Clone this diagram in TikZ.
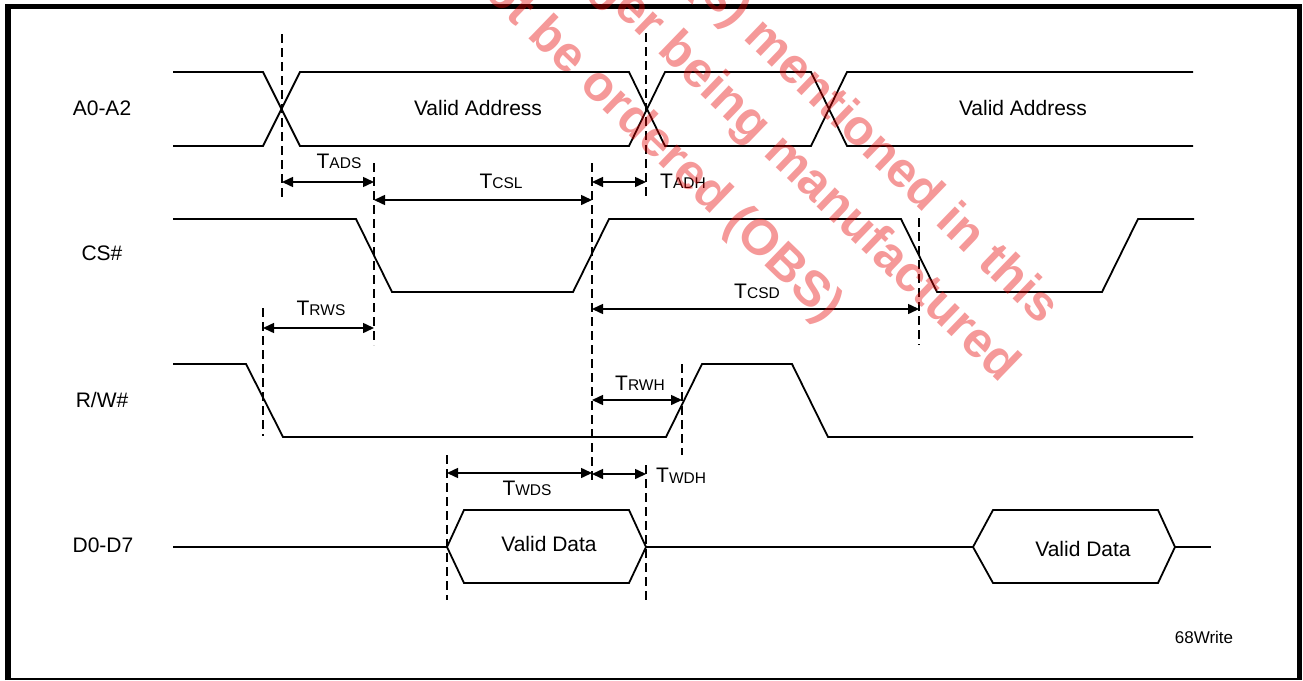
\documentclass[tikz,border=0pt]{standalone}
\usepackage{fontspec}
\setmainfont{Liberation Sans}
\usetikzlibrary{arrows.meta}
\definecolor{wmred}{RGB}{230,0,0}
\newcommand{\tsub}[1]{T{\fontsize{15.5}{16}\selectfont #1}}
\begin{document}
\begin{tikzpicture}[x=1pt,y=-1pt,
  sig/.style={line width=1.8pt, line join=miter},
  guide/.style={line width=1.5pt, dash pattern=on 9pt off 5pt},
  dim/.style={line width=1.5pt, {Triangle[length=11pt,width=10pt]}-{Triangle[length=11pt,width=10pt]}},
  lab/.style={font=\fontsize{21}{24}\selectfont, inner sep=0pt},
  tlab/.style={font=\fontsize{21}{24}\selectfont, inner sep=0pt, anchor=base},
  small/.style={font=\fontsize{17}{20}\selectfont, inner sep=0pt},
  wm/.style={font=\fontsize{50}{60}\selectfont\bfseries, text=wmred, text opacity=0.4, rotate=-44, anchor=mid east, inner sep=0pt}]
\useasboundingbox (0,0) rectangle (1303,680);
% frame
\draw[line width=5.5pt] (8,680) -- (8,6.5) -- (1299.5,6.5) -- (1299.5,680);
\draw[line width=1.5pt] (8,679) -- (1299.5,679);
% signal names
\node[lab] (nA) at (102,108) {A0-A2};
\node[lab] (nC) at (102,253) {CS\#};
\node[lab] (nR) at (102,400) {R/W\#};
\node[lab] (nD) at (103,545) {D0-D7};
% waveforms
\draw[sig] (173,72) -- (263,72) -- (300,146) -- (629,146) -- (665,72) -- (811,72) -- (847,146) -- (1193,146);
\draw[sig] (173,146) -- (263,146) -- (300,72) -- (629,72) -- (665,146) -- (811,146) -- (847,72) -- (1193,72);
\node[lab] (va1) at (478,108) {Valid Address};
\node[lab] (va2) at (1023,108) {Valid Address};
\draw[sig] (173,219) -- (356,219) -- (392,292) -- (573,292) -- (609,219) -- (901,219) -- (937,292) -- (1102,292) -- (1138,219) -- (1194,219);
\draw[sig] (173,364) -- (246,364) -- (283,437) -- (666,437) -- (702,364) -- (792,364) -- (828,437) -- (1193,437);
\draw[sig] (173,547) -- (447,547);
\draw[sig] (447,547) -- (464,510) -- (629,510) -- (646,547) -- (629,583) -- (464,583) -- cycle;
\draw[sig] (646,547) -- (973,547);
\draw[sig] (973,547) -- (993,510) -- (1158,510) -- (1175,547) -- (1158,583) -- (993,583) -- cycle;
\draw[sig] (1175,547) -- (1211,547);
\node[lab] (vd1) at (549,544) {Valid Data};
\node[lab] (vd2) at (1083,549) {Valid Data};
% guide coordinates
\coordinate (g1t) at (282,34);  \coordinate (g1b) at (282,200);
\coordinate (g2t) at (374,163); \coordinate (g2b) at (374,345);
\coordinate (g3t) at (592,163); \coordinate (g3b) at (592,480);
\coordinate (g4t) at (646,33);  \coordinate (g4b) at (646,200);
\coordinate (g4u) at (646,465); \coordinate (g4v) at (646,600);
\coordinate (g5t) at (263,308); \coordinate (g5b) at (263,436);
\coordinate (g6t) at (919,218); \coordinate (g6b) at (919,345);
\coordinate (g7t) at (682,364); \coordinate (g7b) at (682,455);
\coordinate (g8t) at (447,455); \coordinate (g8b) at (447,600);
\foreach \g in {1,2,3,4,5,6,7,8} \draw[guide] (g\g t) -- (g\g b);
\draw[guide] (g4u) -- (g4v);
% dimension arrows
\coordinate (aADSl) at (282,182); \coordinate (aADSr) at (374,182);
\coordinate (aCSLl) at (374,200); \coordinate (aCSLr) at (592,200);
\coordinate (aADHl) at (592,182); \coordinate (aADHr) at (646,182);
\coordinate (aRWSl) at (263,328); \coordinate (aRWSr) at (374,328);
\coordinate (aCSDl) at (592,309); \coordinate (aCSDr) at (919,309);
\coordinate (aRWHl) at (592,400); \coordinate (aRWHr) at (682,400);
\coordinate (aWDSl) at (447,473); \coordinate (aWDSr) at (592,473);
\coordinate (aWDHl) at (592,474); \coordinate (aWDHr) at (646,474);
\draw[dim] (aADSl) -- (aADSr);
\draw[dim] (aCSLl) -- (aCSLr);
\draw[dim] (aADHl) -- (aADHr);
\draw[dim] (aRWSl) -- (aRWSr);
\draw[dim] (aCSDl) -- (aCSDr);
\draw[dim] (aRWHl) -- (aRWHr);
\draw[dim] (aWDSl) -- (aWDSr);
\draw[dim] (aWDHl) -- (aWDHr);
\node[tlab] (tADS) at (339,168) {\tsub{ADS}};
\node[tlab] (tCSL) at (501,188) {\tsub{CSL}};
\node[tlab, anchor=base west] (tADH) at (660,188) {\tsub{ADH}};
\node[tlab] (tRWS) at (321,315) {\tsub{RWS}};
\node[tlab] (tCSD) at (757,298) {\tsub{CSD}};
\node[tlab] (tRWH) at (640,390) {\tsub{RWH}};
\node[tlab] (tWDS) at (527,495) {\tsub{WDS}};
\node[tlab, anchor=base west] (tWDH) at (656,482) {T\raisebox{-1.5pt}{\fontsize{15.5}{16}\selectfont WDH}};
\node[small] (cap) at (1204,637) {68Write};
% watermark
\begin{scope}
\clip (0,0) rectangle (1303,680);
\node[wm] (wmA) at (1042,324) {Product(s) mentioned in this};
\node[wm] (wmB) at (1002,382) {no longer being manufactured};
\node[wm] (wmC) at (826,322) {cannot be ordered (OBS)};
\end{scope}
\end{tikzpicture}
\end{document}
